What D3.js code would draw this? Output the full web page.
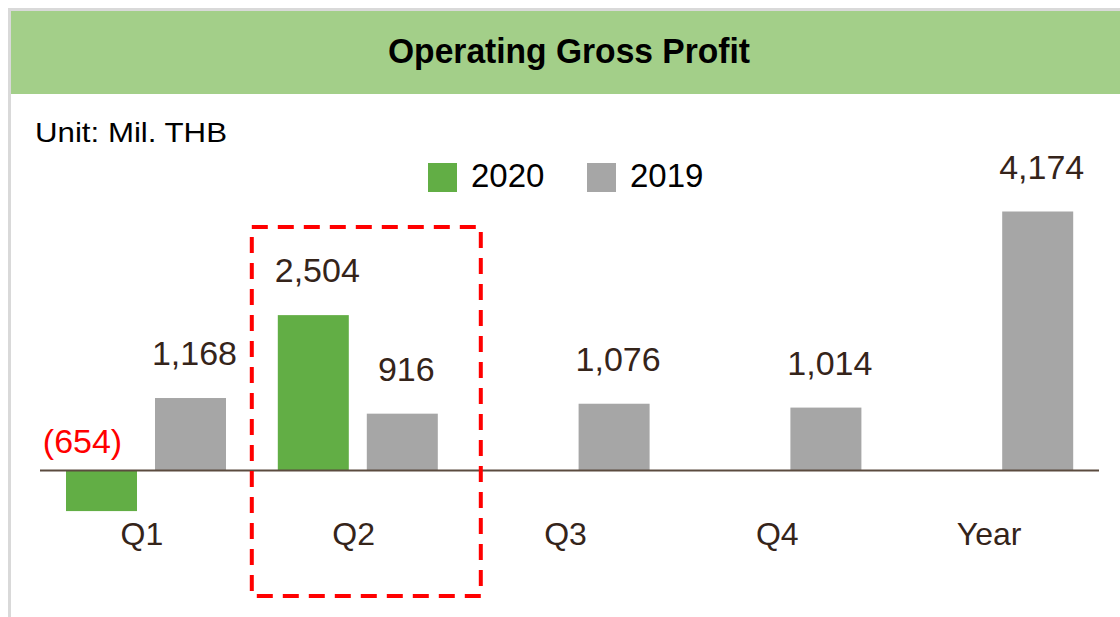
<!DOCTYPE html>
<html>
<head>
<meta charset="utf-8">
<script src="https://cdn.jsdelivr.net/npm/d3@7"></script>
<style>
  body { margin: 0; background: #fff; }
  svg { display: block; font-family: "Liberation Sans", Arial, sans-serif; }
</style>
</head>
<body>
<svg id="chart" width="1120" height="617"></svg>
<script>
var categories = ["Q1", "Q2", "Q3", "Q4", "Year"];
var seriesNames = ["2020", "2019"];
var values2020 = [-654, 2504, null, null, null];
var values2019 = [1168, 916, 1076, 1014, 4174];
var seriesColors = ["#62ae45", "#a6a6a6"];

var svg = d3.select("#chart");
var W = 1120, H = 617;

// frame: light gray top / left rule, green title band
svg.append("rect").attr("x", 0).attr("y", 0).attr("width", W).attr("height", H).attr("fill", "#fff");
svg.append("rect").attr("x", 8).attr("y", 8).attr("width", W - 8).attr("height", 3).attr("fill", "#d9d9d9");
svg.append("rect").attr("x", 8).attr("y", 8).attr("width", 3).attr("height", H - 8).attr("fill", "#d9d9d9");
svg.append("rect").attr("x", 11).attr("y", 11).attr("width", W - 11).attr("height", 83).attr("fill", "#a3cf89");

svg.append("text")
    .attr("x", 569).attr("y", 63)
    .attr("text-anchor", "middle")
    .attr("font-size", 35).attr("font-weight", "bold")
    .attr("textLength", 362).attr("lengthAdjust", "spacingAndGlyphs")
    .attr("fill", "#000")
    .text("Operating Gross Profit");

svg.append("text")
    .attr("x", 35).attr("y", 142)
    .attr("font-size", 28)
    .attr("textLength", 192).attr("lengthAdjust", "spacingAndGlyphs")
    .attr("fill", "#000")
    .text("Unit: Mil. THB");

// scales
var x0 = d3.scaleBand().domain(categories).range([40, 1099]).padding(0);
var x1 = d3.scaleBand().domain(seriesNames).range([26, 186]).paddingInner(0.2022).paddingOuter(0);
var y = d3.scaleLinear().domain([0, 4174]).range([470.5, 211.5]);

var rows = categories.map(function(c, i) {
    return { cat: c, vals: [values2020[i], values2019[i]] };
});

var groups = svg.selectAll("g.cat").data(rows).enter().append("g")
    .attr("class", "cat")
    .attr("transform", function(d) { return "translate(" + x0(d.cat) + ",0)"; });

var fmt = d3.format(",");

groups.each(function(d) {
    var g = d3.select(this);
    d.vals.forEach(function(v, i) {
        if (v == null) return;
        var bx = x1(seriesNames[i]);
        g.append("rect")
            .attr("x", bx)
            .attr("y", Math.min(y(v), y(0)))
            .attr("width", x1.bandwidth())
            .attr("height", Math.abs(y(v) - y(0)))
            .attr("fill", seriesColors[i]);
        if (v >= 0) {
            g.append("text")
                .attr("x", bx + x1.bandwidth() / 2 + 4)
                .attr("y", y(v) - 33)
                .attr("text-anchor", "middle")
                .attr("font-size", 34)
                .attr("fill", "#35241a")
                .text(fmt(v));
        } else {
            g.append("text")
                .attr("x", bx + x1.bandwidth() / 2 - 19)
                .attr("y", y(0) - 18)
                .attr("text-anchor", "middle")
                .attr("font-size", 34)
                .attr("fill", "#ff0000")
                .text("(" + fmt(-v) + ")");
        }
    });
});

// baseline
svg.append("line")
    .attr("x1", 40).attr("x2", 1099)
    .attr("y1", y(0)).attr("y2", y(0))
    .attr("stroke", "#5b4b3f").attr("stroke-width", 2);

// category labels
svg.selectAll("text.cat").data(categories).enter().append("text")
    .attr("class", "cat")
    .attr("x", function(c) { return x0(c) + x0.bandwidth() / 2 - 4; })
    .attr("y", 545)
    .attr("text-anchor", "middle")
    .attr("font-size", 32)
    .attr("fill", "#35241a")
    .text(function(c) { return c; });

// legend
var legendX = [428, 587];
seriesNames.forEach(function(s, i) {
    svg.append("rect")
        .attr("x", legendX[i]).attr("y", 163)
        .attr("width", 29).attr("height", 29)
        .attr("fill", seriesColors[i]);
    svg.append("text")
        .attr("x", legendX[i] + 43).attr("y", 187)
        .attr("font-size", 33)
        .attr("fill", "#000")
        .text(s);
});

// highlight box around Q2
var hx = x0("Q2");
svg.append("rect")
    .attr("x", hx).attr("y", 227)
    .attr("width", 229).attr("height", 369)
    .attr("fill", "none")
    .attr("stroke", "#ff0000").attr("stroke-width", 4)
    .attr("stroke-dasharray", "16,10");
</script>
</body>
</html>
